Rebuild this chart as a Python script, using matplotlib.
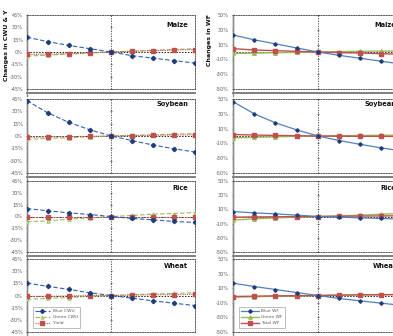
import matplotlib
matplotlib.use("Agg")
import matplotlib.pyplot as plt
from matplotlib.lines import Line2D

# ---------------- data ----------------
steps = [-20, -15, -10, -5, 0, 5, 10, 15, 20]
crops = ["Maize", "Soybean", "Rice", "Wheat"]

blue_cwu = {
    "Maize":   [18, 12.5, 8, 4, 0, -4.5, -7.5, -10.5, -13.5],
    "Soybean": [43, 28, 16.5, 7.5, 0, -5.5, -11, -15.5, -19.5],
    "Rice":    [10, 7.2, 4.6, 2.5, 0, -2.5, -4.2, -6.3, -7.6],
    "Wheat":   [15.3, 11.2, 7.5, 3.3, 0, -3.3, -6.6, -9.5, -12.4],
}
green_cwu = {
    "Maize":   [-5, -3.8, -2.5, -1.2, 0, 1, 2, 3, 4],
    "Soybean": [-4, -3, -2, -1, 0, 0.8, 1.5, 2.2, 3],
    "Rice":    [-6.7, -5.5, -3.4, -1.7, 0, 1.3, 3, 3.8, 5],
    "Wheat":   [-4.6, -3.5, -2.5, -1, 0, 1, 2, 2.5, 3.5],
}
yield_chg = {
    "Maize":   [-3, -2.5, -2, -1, 0, 1, 1.5, 2.5, 3],
    "Soybean": [-1.5, -1.2, -0.8, -0.4, 0, 0.4, 0.8, 1.2, 1.5],
    "Rice":    [0, 0, 0, 0, 0, 0, 0, 0, 0],
    "Wheat":   [-1, -1, -0.5, 0, 0, 0.5, 1, 1, 1.5],
}

blue_wf = {
    "Maize":   [23, 16.5, 11, 5.5, 0, -4.5, -8.5, -12.5, -16.5],
    "Soybean": [46.5, 30, 17.8, 8.3, 0, -6.1, -11.3, -16.1, -20.4],
    "Rice":    [7, 5.1, 3.7, 1.9, 0, -0.9, -1.9, -2.8, -3.7],
    "Wheat":   [16.9, 12.3, 8.2, 4.1, 0, -4.1, -7.3, -10.5, -13.7],
}
green_wf = {
    "Maize":   [-2, -1.5, -1, -0.5, 0, 0.5, 1, 1.2, 1.5],
    "Soybean": [-2.5, -1.8, -1.1, -0.5, 0, 0.4, 0.7, 1.0, 1.2],
    "Rice":    [-5.1, -3.3, -1.9, -0.9, 0, 0.9, 1.9, 3.3, 4.2],
    "Wheat":   [-2.3, -1.7, -1, -0.5, 0, 0.5, 0.9, 1.2, 1.5],
}
total_wf = {
    "Maize":   [4.5, 2.7, 1.8, 0.9, 0, -0.9, -1.4, -2.3, -3.1],
    "Soybean": [2, 1.3, 0.8, 0.4, 0, -0.2, -0.4, -0.5, -0.6],
    "Rice":    [-1, -0.6, -0.4, -0.2, 0, 0.3, 0.6, 0.8, 1.0],
    "Wheat":   [-1.4, -0.9, -0.5, -0.3, 0, 0.5, 0.9, 1, 1.4],
}

left_ticks = [-45, -30, -15, 0, 15, 30, 45]
right_ticks = [-50, -30, -10, 10, 30, 50]
left_labels = ["Blue CWU", "Green CWU", "Yield"]
right_labels = ["Blue WF", "Green WF", "Total WF"]

# ---------------- layout ----------------
W, H = 393, 336
fig = plt.figure(figsize=(W / 100, H / 100), dpi=100)

rows_px = [(15, 89), (99, 173), (181, 252), (259, 332)]
title_y = [0.87, 0.93, 0.90, 0.90]
left_x = (27, 195)
right_x = (233, 402.6)

BLUE_L = "#2e62b0"
BLUE_M = "#1f3d7a"
BLUE_R = "#4f81bd"
GREEN = "#9bbb59"
RED = "#c0504d"
GREY = "#595959"


def style_axes(ax, ticks, lim, last_row):
    ax.set_xlim(steps[0], steps[-1])
    ax.set_ylim(-lim, lim)
    ax.set_yticks(ticks)
    ax.set_yticklabels([f"{t}%" for t in ticks])
    ax.tick_params(axis="y", labelsize=3.6, colors=GREY, length=1.0,
                   width=0.5, pad=1.8)
    ax.tick_params(axis="x", bottom=False, labelbottom=False)
    for s in ["top", "right", "bottom"]:
        ax.spines[s].set_linestyle((0, (1.5, 1.5)))
        ax.spines[s].set_linewidth(0.6)
        ax.spines[s].set_color("#404040")
    ax.spines["left"].set_color("#8c8c8c")
    ax.spines["left"].set_linewidth(1.0)
    ax.axhline(0, color="#202020", lw=0.7, ls=(0, (1.5, 1.5)), zorder=1)
    ax.axvline(steps[len(steps) // 2], color="#404040", lw=0.6,
               ls=(0, (1.5, 1.5)), zorder=1)
    ax.plot([steps[len(steps) // 2]] * len(ticks), ticks, ls="none",
            marker="_", ms=2, mew=0.5, color="#404040", zorder=1)
    if not last_row:
        ax.plot([0, 1], [-0.055, -0.055], transform=ax.transAxes,
                color="#7f7f7f", lw=1.4, clip_on=False)
    ax.plot([0, 0], [-0.09, 1], transform=ax.transAxes,
            color="#8c8c8c", lw=1.0, clip_on=False)


def make_legend(ax, handles, labels, hlen):
    leg = ax.legend(handles, labels, loc="lower left",
                    bbox_to_anchor=(0.02, 0.03), fontsize=3.2,
                    frameon=True, fancybox=False, handlelength=hlen,
                    handletextpad=0.6, borderpad=0.5, labelspacing=0.45,
                    labelcolor=GREY)
    leg.get_frame().set_edgecolor("#8c8c8c")
    leg.get_frame().set_linewidth(0.5)


for i, crop in enumerate(crops):
    top, bot = rows_px[i]
    b = 1 - bot / H
    h = (bot - top) / H
    # left panel
    axl = fig.add_axes([left_x[0] / W, b, (left_x[1] - left_x[0]) / W, h])
    style_axes(axl, left_ticks, 45, i == 3)
    axl.plot(steps, blue_cwu[crop], color=BLUE_L, ls=(0, (4, 2)), lw=0.8,
             marker="D", ms=2.2, mfc=BLUE_M, mec=BLUE_M, zorder=4)
    axl.plot(steps, green_cwu[crop], color=GREEN, ls=(0, (4, 2)), lw=0.8,
             marker="^", ms=2.6, mfc="#c3d69b", mec=GREEN, mew=0.5, zorder=3)
    axl.plot(steps, yield_chg[crop], color=RED, ls=(0, (1, 1)), lw=0.8,
             marker="s", ms=2.4, mfc=RED, mec=RED, zorder=3)
    axl.text(1 - 7 / (left_x[1] - left_x[0]), title_y[i], crop,
             transform=axl.transAxes, ha="right", va="center",
             fontsize=4.8, fontweight="bold", color="#111111")
    if i == 3:
        handles = [
            Line2D([], [], color=BLUE_L, ls=(0, (4, 2)), lw=0.8, marker="D",
                   ms=2.0, mfc=BLUE_M, mec=BLUE_M),
            Line2D([], [], color=GREEN, ls=(0, (4, 2)), lw=0.8, marker="^",
                   ms=2.4, mfc="#c3d69b", mec=GREEN, mew=0.5),
            Line2D([], [], color=RED, ls=(0, (1, 1)), lw=0.8, marker="s",
                   ms=2.2, mfc=RED, mec=RED),
        ]
        make_legend(axl, handles, left_labels, 3.4)

    # right panel
    axr = fig.add_axes([right_x[0] / W, b, (right_x[1] - right_x[0]) / W, h])
    style_axes(axr, right_ticks, 50, i == 3)
    axr.plot(steps, blue_wf[crop], color=BLUE_R, ls="-", lw=0.9,
             marker="D", ms=1.8, mfc=BLUE_M, mec=BLUE_M, zorder=4)
    axr.plot(steps, green_wf[crop], color=GREEN, ls="-", lw=1.0,
             marker="^", ms=2.6, mfc=GREEN, mec=GREEN, zorder=3)
    axr.plot(steps, total_wf[crop], color=RED, ls="-", lw=1.0,
             marker="s", ms=2.6, mfc=RED, mec=RED, zorder=3)
    axr.text(1 - 6 / (right_x[1] - right_x[0]), title_y[i], crop,
             transform=axr.transAxes, ha="right", va="center",
             fontsize=4.8, fontweight="bold", color="#111111")
    if i == 3:
        handles = [
            Line2D([], [], color=BLUE_R, lw=0.9, marker="D", ms=1.8,
                   mfc=BLUE_M, mec=BLUE_M),
            Line2D([], [], color=GREEN, lw=1.0, marker="^", ms=2.4,
                   mfc=GREEN, mec=GREEN),
            Line2D([], [], color=RED, lw=1.0, marker="s", ms=2.4,
                   mfc=RED, mec=RED),
        ]
        make_legend(axr, handles, right_labels, 4.0)

fig.text(7 / W, 1 - 45 / H, "Changes in CWU & Y", rotation=90,
         ha="center", va="center", fontsize=4.5, fontweight="bold",
         color="#111111")
fig.text(210 / W, 1 - 40 / H, "Changes in WF", rotation=90,
         ha="center", va="center", fontsize=4.5, fontweight="bold",
         color="#111111")

fig.savefig("out.png", dpi=100)
